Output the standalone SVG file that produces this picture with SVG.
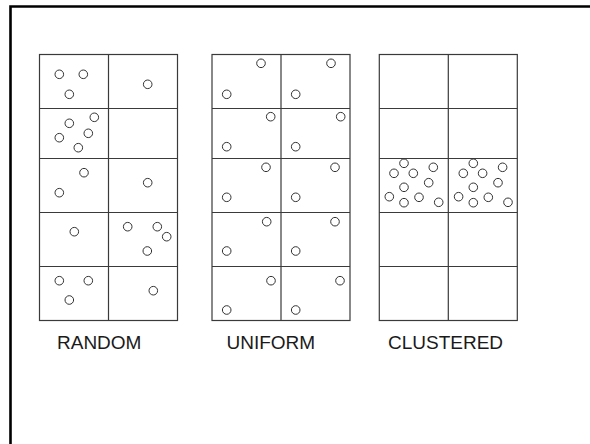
<svg xmlns="http://www.w3.org/2000/svg" width="590" height="444" viewBox="0 0 590 444">
<style>
.frame{fill:none;stroke:#000;stroke-width:2.6}
.grid{fill:none;stroke:#3a3a3a;stroke-width:1.2}
.pt{fill:#fff;stroke:#333;stroke-width:1}
.lbl{font-family:"Liberation Sans",Arial,sans-serif;font-size:19px;fill:#1a1a1a}
</style>
<rect width="590" height="444" fill="#fff"/>
<path class="frame" d="M10.5 444 V6.5 H590"/>
<defs>
<g id="grid">
<rect class="grid" x="0" y="0" width="138" height="266"/>
<path class="grid" d="M69 0 V266 M0 54 H138 M0 104 H138 M0 158 H138 M0 212 H138"/>
</g>
</defs>
<g id="random">
<use href="#grid" x="39.5" y="54.5"/>
<g>
<circle class="pt" cx="59.3" cy="74.3" r="4.3"/>
<circle class="pt" cx="83.3" cy="74.3" r="4.3"/>
<circle class="pt" cx="69.3" cy="94.3" r="4.3"/>
<circle class="pt" cx="147.7" cy="84.3" r="4.3"/>
<circle class="pt" cx="94.3" cy="117.3" r="4.3"/>
<circle class="pt" cx="69.3" cy="123.3" r="4.3"/>
<circle class="pt" cx="88.3" cy="133.3" r="4.3"/>
<circle class="pt" cx="59.3" cy="137.7" r="4.3"/>
<circle class="pt" cx="78.3" cy="147.7" r="4.3"/>
<circle class="pt" cx="84" cy="172.7" r="4.3"/>
<circle class="pt" cx="59.3" cy="192.7" r="4.3"/>
<circle class="pt" cx="147.7" cy="182.7" r="4.3"/>
<circle class="pt" cx="74.3" cy="231.7" r="4.3"/>
<circle class="pt" cx="127.7" cy="226.7" r="4.3"/>
<circle class="pt" cx="157.3" cy="226.7" r="4.3"/>
<circle class="pt" cx="166.7" cy="236.7" r="4.3"/>
<circle class="pt" cx="147.3" cy="251" r="4.3"/>
<circle class="pt" cx="59.3" cy="280.7" r="4.3"/>
<circle class="pt" cx="88.3" cy="280.7" r="4.3"/>
<circle class="pt" cx="69.3" cy="300" r="4.3"/>
<circle class="pt" cx="153.3" cy="290.7" r="4.3"/>
</g>
<text class="lbl" x="57" y="348.5">RANDOM</text>
</g>
<g id="uniform">
<use href="#grid" x="212" y="54.5"/>
<g>
<circle class="pt" cx="261" cy="63.3" r="4.3"/>
<circle class="pt" cx="331" cy="63.3" r="4.3"/>
<circle class="pt" cx="226.7" cy="94.3" r="4.3"/>
<circle class="pt" cx="295.7" cy="94.3" r="4.3"/>
<circle class="pt" cx="270.7" cy="116.7" r="4.3"/>
<circle class="pt" cx="340.7" cy="116.7" r="4.3"/>
<circle class="pt" cx="226.7" cy="146.7" r="4.3"/>
<circle class="pt" cx="295.7" cy="146.7" r="4.3"/>
<circle class="pt" cx="266" cy="167.3" r="4.3"/>
<circle class="pt" cx="335" cy="167.3" r="4.3"/>
<circle class="pt" cx="226.7" cy="197.3" r="4.3"/>
<circle class="pt" cx="295.7" cy="197.3" r="4.3"/>
<circle class="pt" cx="266.7" cy="221.7" r="4.3"/>
<circle class="pt" cx="335" cy="221.7" r="4.3"/>
<circle class="pt" cx="226.7" cy="251" r="4.3"/>
<circle class="pt" cx="295.7" cy="251" r="4.3"/>
<circle class="pt" cx="271" cy="280.7" r="4.3"/>
<circle class="pt" cx="340" cy="280.7" r="4.3"/>
<circle class="pt" cx="226.7" cy="310" r="4.3"/>
<circle class="pt" cx="295.7" cy="310" r="4.3"/>
</g>
<text class="lbl" x="226.5" y="348.5">UNIFORM</text>
</g>
<g id="clustered">
<use href="#grid" x="379.3" y="54.5"/>
<g id="cluster">
<circle class="pt" cx="404" cy="163.3" r="4.3"/>
<circle class="pt" cx="394" cy="173.3" r="4.3"/>
<circle class="pt" cx="413.3" cy="173.3" r="4.3"/>
<circle class="pt" cx="433.3" cy="167.3" r="4.3"/>
<circle class="pt" cx="428.7" cy="182.7" r="4.3"/>
<circle class="pt" cx="404" cy="187.3" r="4.3"/>
<circle class="pt" cx="389.3" cy="196.7" r="4.3"/>
<circle class="pt" cx="404" cy="202.7" r="4.3"/>
<circle class="pt" cx="419" cy="197.3" r="4.3"/>
<circle class="pt" cx="438.7" cy="202.3" r="4.3"/>
</g>
<use href="#cluster" x="69.3" y="0"/>
<text class="lbl" x="388" y="348.5">CLUSTERED</text>
</g>
</svg>
